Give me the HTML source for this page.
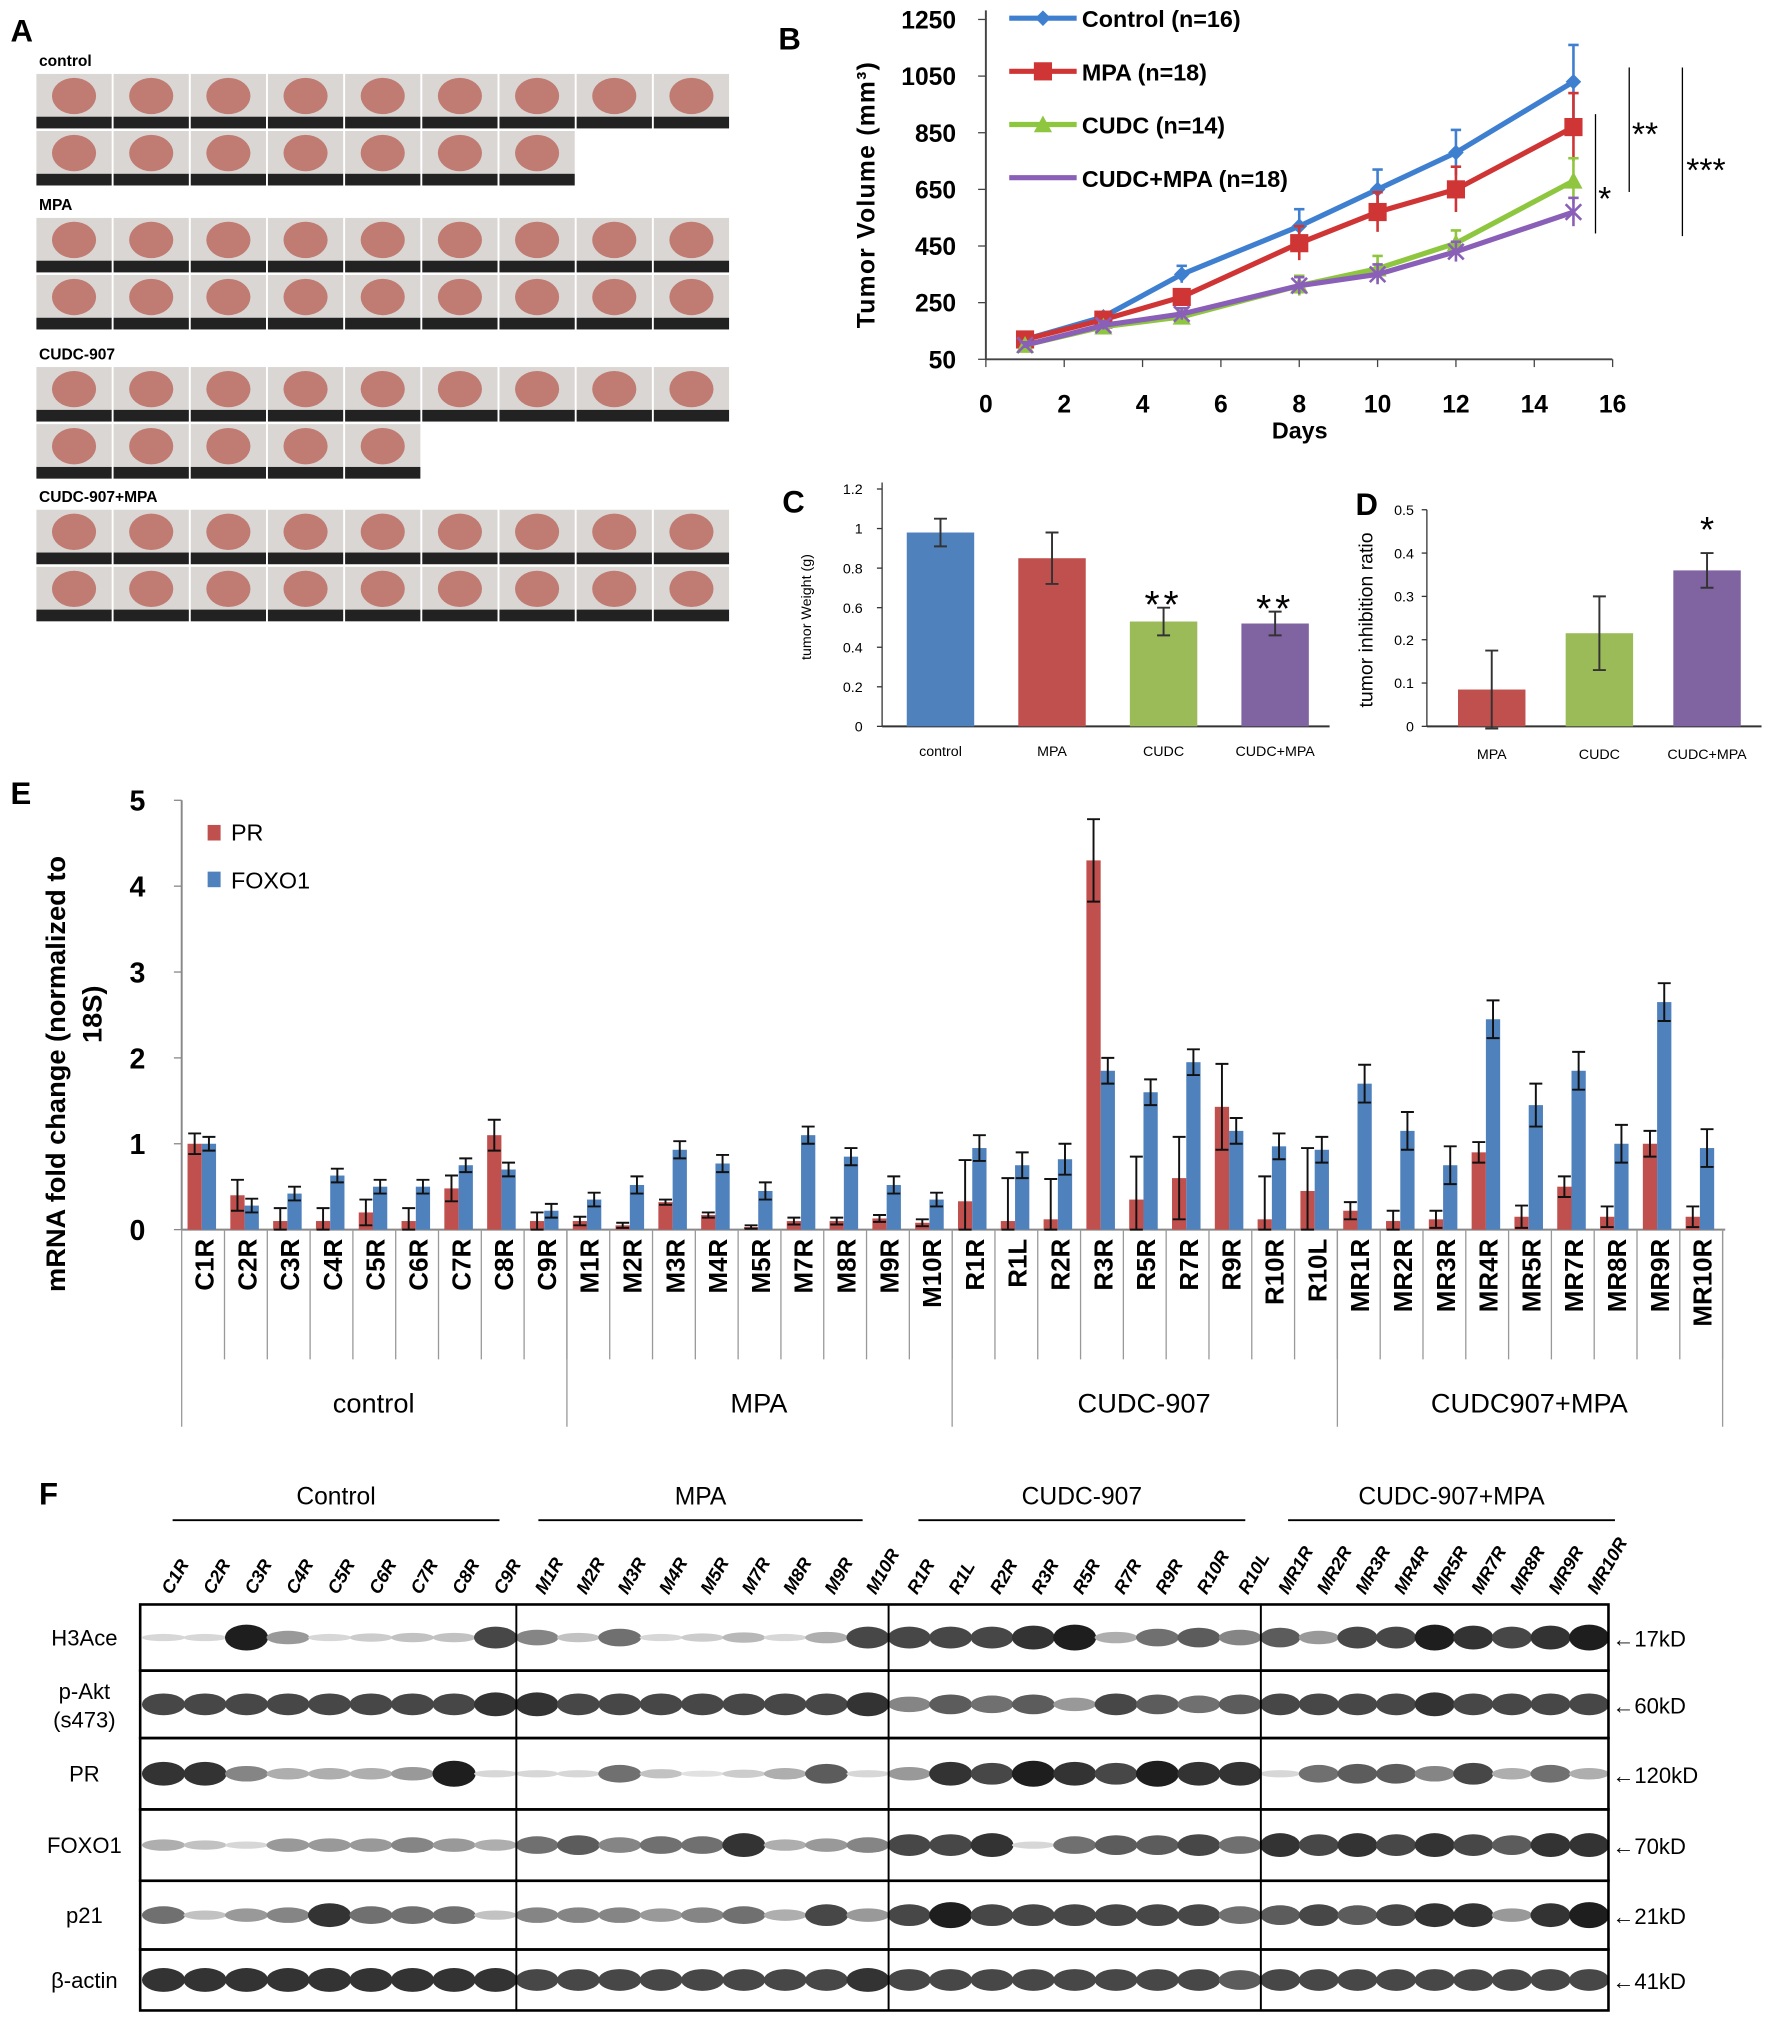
<!DOCTYPE html>
<html><head><meta charset="utf-8"><style>
body{margin:0;background:#fff}
svg{display:block;font-family:"Liberation Sans",sans-serif}
</style></head><body>
<svg id="fig" width="1772" height="2039" viewBox="0 0 1366 1572" xmlns="http://www.w3.org/2000/svg">
<g font-weight="bold" font-size="24">
<text x="8" y="32">A</text>
<text x="600" y="38">B</text>
<text x="603" y="395">C</text>
<text x="1045" y="397">D</text>
<text x="8" y="620">E</text>
<text x="30" y="1160">F</text>
</g>
<g id="pA"></g>
<g id="pB"></g>
<g id="pC"></g>
<g id="pD"></g>
<g id="pE"></g>
<g id="pF"></g>
</svg>
<script>
const NS="http://www.w3.org/2000/svg";
function mk(p,t,a,txt){const e=document.createElementNS(NS,t);for(const k in a)e.setAttribute(k,a[k]);if(txt!==undefined)e.textContent=txt;p.appendChild(e);return e;}

// ---------- Panel A ----------
const photoGroups=["control","MPA","CUDC-907","CUDC-907+MPA"];
const photoRowCounts=[[9,7],[9,9],[9,5],[9,9]];
const pA=document.getElementById('pA');
const groupTop=[57,168,283,393];
photoGroups.forEach((g,gi)=>{
  const t=mk(pA,'text',{x:30,y:groupTop[gi]-6,'font-size':12,'font-weight':'bold'},g);
  
  
  photoRowCounts[gi].forEach((n,ri)=>{
    for(let i=0;i<n;i++){
      const x=28+i*59.5,y=groupTop[gi]+ri*44;
      const r=mk(pA,'rect',{x:x,y:y,width:58,height:42,fill:'#d9d6d3'});
      
      
      mk(pA,'ellipse',{cx:x+29,cy:y+17,rx:17,ry:14,fill:'#c07b72'});
      mk(pA,'rect',{x:x,y:y+33,width:58,height:9,fill:'#222'});
    }
  });
});

// ---------- Panel B ----------
const days=[1,3,5,8,10,12,15];
const ctrlVals=[120,200,350,520,650,780,1030];
const mpaVals=[120,190,270,460,570,650,870];
const cudcVals=[100,165,200,310,370,460,680];
const comboVals=[100,170,210,310,350,430,570];
const ctrlErr=[10,15,30,60,70,80,130];
const mpaErr=[10,15,25,60,70,80,120];
const cudcErr=[10,15,20,35,45,45,80];
const comboErr=[10,15,20,30,35,35,50];
const bYTicks=[50,250,450,650,850,1050,1250];
const bXTicks=[0,2,4,6,8,10,12,14,16];
const pB=document.getElementById('pB');
const bx=d=>760+d*30.2, by=v=>277-(v-50)*(262/1200);
mk(pB,'line',{x1:760,y1:8,x2:760,y2:277,stroke:'#444','stroke-width':1.5});
mk(pB,'line',{x1:760,y1:277,x2:1243,y2:277,stroke:'#444','stroke-width':1.5});
bYTicks.forEach(v=>{mk(pB,'line',{x1:754,y1:by(v),x2:760,y2:by(v),stroke:'#444'});
 const t=mk(pB,'text',{x:737,y:by(v)+7,'text-anchor':'end','font-size':19,'font-weight':'bold'},v);
 });
bXTicks.forEach(v=>{mk(pB,'line',{x1:bx(v),y1:277,x2:bx(v),y2:283,stroke:'#444'});
 const t=mk(pB,'text',{x:bx(v),y:318,'text-anchor':'middle','font-size':19,'font-weight':'bold'},v);
 });
mk(pB,'text',{x:1002,y:338,'text-anchor':'middle','font-size':18,'font-weight':'bold'},'Days');
mk(pB,'text',{x:0,y:0,transform:'translate(674,150) rotate(-90)','text-anchor':'middle','font-size':19,'font-weight':'bold','letter-spacing':'1'},'Tumor Volume (mm³)');
const series=[["Control (n=16)",ctrlVals,ctrlErr,'#3f7fd0'],["MPA (n=18)",mpaVals,mpaErr,'#d03535'],["CUDC (n=14)",cudcVals,cudcErr,'#8fc63f'],["CUDC+MPA (n=18)",comboVals,comboErr,'#8a5fb8']];
series.forEach((s,si)=>{
  const [name,vals,errs,col]=s;
  vals.forEach((v,i)=>{const x=bx(days[i]);mk(pB,'line',{x1:x,y1:by(v-errs[i]),x2:x,y2:by(v+errs[i]),stroke:col,'stroke-width':2});
    mk(pB,'line',{x1:x-4,y1:by(v+errs[i]),x2:x+4,y2:by(v+errs[i]),stroke:col,'stroke-width':2});});
  const pl=mk(pB,'polyline',{points:vals.map((v,i)=>bx(days[i])+','+by(v)).join(' '),fill:'none',stroke:col,'stroke-width':4});
  
  vals.forEach((v,i)=>{const x=bx(days[i]),y=by(v);
    if(si==1)mk(pB,'rect',{x:x-7,y:y-7,width:14,height:14,fill:col});
    else if(si==2)mk(pB,'polygon',{points:`${x},${y-7} ${x-7},${y+6} ${x+7},${y+6}`,fill:col});
    else if(si==0)mk(pB,'polygon',{points:`${x},${y-6} ${x-6},${y} ${x},${y+6} ${x+6},${y}`,fill:col});
    else{mk(pB,'path',{d:`M${x-6},${y-6}L${x+6},${y+6}M${x-6},${y+6}L${x+6},${y-6}`,stroke:col,'stroke-width':2});}});
  const ly=14+si*41;
  mk(pB,'line',{x1:778,y1:ly,x2:830,y2:ly,stroke:col,'stroke-width':4});
  if(si==1)mk(pB,'rect',{x:797,y:ly-7,width:14,height:14,fill:col});
  else if(si==2)mk(pB,'polygon',{points:`804,${ly-7} 797,${ly+6} 811,${ly+6}`,fill:col});
  else if(si==0)mk(pB,'polygon',{points:`804,${ly-6} 798,${ly} 804,${ly+6} 810,${ly}`,fill:col});
  const lt=mk(pB,'text',{x:834,y:ly+7,'font-size':18,'font-weight':'bold'},name);
  
});
mk(pB,'line',{x1:1230,y1:88,x2:1230,y2:180,stroke:'#000'});
mk(pB,'line',{x1:1256,y1:52,x2:1256,y2:148,stroke:'#000'});
mk(pB,'line',{x1:1297,y1:52,x2:1297,y2:182,stroke:'#000'});
mk(pB,'text',{x:1232,y:162,'font-size':26},'*');
mk(pB,'text',{x:1258,y:112,'font-size':26},'**');
mk(pB,'text',{x:1300,y:140,'font-size':26},'***');

// ---------- Panel C ----------
const cCats=["control","MPA","CUDC","CUDC+MPA"];
const cVals=[0.98,0.85,0.53,0.52];
const cErr=[0.07,0.13,0.07,0.06];
const cCols=['#4f81bd','#c0504d','#9bbb59','#8064a2'];
const cTicks=[0,0.2,0.4,0.6,0.8,1,1.2];
const pC=document.getElementById('pC');
const cy=v=>560-v*(183/1.2);
mk(pC,'line',{x1:680,y1:372,x2:680,y2:560,stroke:'#333'});
mk(pC,'line',{x1:680,y1:560,x2:1025,y2:560,stroke:'#333','stroke-width':1.5});
cTicks.forEach(v=>{mk(pC,'line',{x1:676,y1:cy(v),x2:680,y2:cy(v),stroke:'#333'});
 const t=mk(pC,'text',{x:665,y:cy(v)+4,'text-anchor':'end','font-size':11},v);});
mk(pC,'text',{x:0,y:0,transform:'translate(625,468) rotate(-90)','text-anchor':'middle','font-size':11},'tumor Weight (g)');
cVals.forEach((v,i)=>{const x=725+i*86;
 const r=mk(pC,'rect',{x:x-26,y:cy(v),width:52,height:560-cy(v),fill:cCols[i]});
 
 mk(pC,'path',{d:`M${x},${cy(v-cErr[i])}V${cy(v+cErr[i])}M${x-5},${cy(v-cErr[i])}H${x+5}M${x-5},${cy(v+cErr[i])}H${x+5}`,stroke:'#333','stroke-width':1.5});
 mk(pC,'text',{x:x,y:583,'text-anchor':'middle','font-size':11},cCats[i]);
 if(i>=2)mk(pC,'text',{x:x,y:cy(v+cErr[i])+8,'text-anchor':'middle','font-size':30,'letter-spacing':'3'},'**');});

// ---------- Panel D ----------
const dCats=["MPA","CUDC","CUDC+MPA"];
const dVals=[0.085,0.215,0.36];
const dErr=[0.09,0.085,0.04];
const dCols=['#c0504d','#9bbb59','#8064a2'];
const dTicks=[0,0.1,0.2,0.3,0.4,0.5];
const pD=document.getElementById('pD');
const dy=v=>560-v*(167/0.5);
mk(pD,'line',{x1:1100,y1:393,x2:1100,y2:560,stroke:'#333'});
mk(pD,'line',{x1:1100,y1:560,x2:1358,y2:560,stroke:'#333','stroke-width':1.5});
dTicks.forEach(v=>{mk(pD,'line',{x1:1096,y1:dy(v),x2:1100,y2:dy(v),stroke:'#333'});
 const t=mk(pD,'text',{x:1090,y:dy(v)+4,'text-anchor':'end','font-size':11},v);});
mk(pD,'text',{x:0,y:0,transform:'translate(1058,478) rotate(-90)','text-anchor':'middle','font-size':15},'tumor inhibition ratio');
dVals.forEach((v,i)=>{const x=1150+i*83;
 const r=mk(pD,'rect',{x:x-26,y:dy(v),width:52,height:560-dy(v),fill:dCols[i]});
 
 mk(pD,'path',{d:`M${x},${dy(v-dErr[i])}V${dy(v+dErr[i])}M${x-5},${dy(v-dErr[i])}H${x+5}M${x-5},${dy(v+dErr[i])}H${x+5}`,stroke:'#333','stroke-width':1.5});
 mk(pD,'text',{x:x,y:585,'text-anchor':'middle','font-size':11},dCats[i]);});
mk(pD,'text',{x:1316,y:418,'text-anchor':'middle','font-size':28},'*');

// ---------- Panel E ----------
const eCats=["C1R","C2R","C3R","C4R","C5R","C6R","C7R","C8R","C9R","M1R","M2R","M3R","M4R","M5R","M7R","M8R","M9R","M10R","R1R","R1L","R2R","R3R","R5R","R7R","R9R","R10R","R10L","MR1R","MR2R","MR3R","MR4R","MR5R","MR7R","MR8R","MR9R","MR10R"];
const prVals=[1.0,0.4,0.1,0.1,0.2,0.1,0.48,1.1,0.1,0.1,0.05,0.32,0.17,0.03,0.1,0.1,0.13,0.08,0.33,0.1,0.12,4.3,0.35,0.6,1.43,0.12,0.45,0.22,0.1,0.12,0.9,0.15,0.5,0.15,1.0,0.15];
const prErr=[0.12,0.18,0.15,0.15,0.15,0.15,0.15,0.18,0.1,0.05,0.03,0.03,0.03,0.02,0.04,0.04,0.04,0.04,0.48,0.5,0.47,0.48,0.5,0.48,0.5,0.5,0.5,0.1,0.12,0.1,0.12,0.13,0.12,0.12,0.15,0.12];
const foxVals=[1.0,0.28,0.42,0.63,0.5,0.5,0.75,0.7,0.22,0.35,0.52,0.93,0.77,0.45,1.1,0.85,0.52,0.35,0.95,0.75,0.82,1.85,1.6,1.95,1.15,0.97,0.93,1.7,1.15,0.75,2.45,1.45,1.85,1.0,2.65,0.95];
const foxErr=[0.08,0.08,0.08,0.08,0.08,0.08,0.08,0.08,0.08,0.08,0.1,0.1,0.1,0.1,0.1,0.1,0.1,0.08,0.15,0.15,0.18,0.15,0.15,0.15,0.15,0.15,0.15,0.22,0.22,0.22,0.22,0.25,0.22,0.22,0.22,0.22];
const eTicks=[0,1,2,3,4,5];
const eGroups=["control","MPA","CUDC-907","CUDC907+MPA"];
const pE=document.getElementById('pE');
const ey=v=>948-v*(331/5), ex=i=>140+(i+0.5)*33;
mk(pE,'line',{x1:140,y1:617,x2:140,y2:948,stroke:'#888','stroke-width':1.5});
mk(pE,'line',{x1:140,y1:948,x2:1330,y2:948,stroke:'#888','stroke-width':1.5});
eTicks.forEach(v=>{mk(pE,'line',{x1:134,y1:ey(v),x2:140,y2:ey(v),stroke:'#888'});
 const t=mk(pE,'text',{x:112,y:ey(v)+8,'text-anchor':'end','font-size':22,'font-weight':'bold'},v);});
mk(pE,'text',{x:0,y:0,transform:'translate(50,828) rotate(-90)','text-anchor':'middle','font-size':21,'font-weight':'bold'},'mRNA fold change (normalized to');
mk(pE,'text',{x:0,y:0,transform:'translate(78,782) rotate(-90)','text-anchor':'middle','font-size':21,'font-weight':'bold'},'18S)');
mk(pE,'rect',{x:160,y:636,width:10,height:12,fill:'#c0504d'});
mk(pE,'text',{x:178,y:648,'font-size':18},'PR');
mk(pE,'rect',{x:160,y:672,width:10,height:12,fill:'#4f81bd'});
mk(pE,'text',{x:178,y:685,'font-size':18},'FOXO1');
eCats.forEach((c,i)=>{const x=ex(i);
 const r1=mk(pE,'rect',{x:x-12,y:ey(prVals[i]),width:11,height:948-ey(prVals[i]),fill:'#c0504d'});
 
 const r2=mk(pE,'rect',{x:x-1,y:ey(foxVals[i]),width:11,height:948-ey(foxVals[i]),fill:'#4f81bd'});
 
 [[x-6.5,prVals[i],prErr[i]],[x+4.5,foxVals[i],foxErr[i]]].forEach(([cx,v,e])=>{
  mk(pE,'path',{d:`M${cx},${ey(Math.max(0,v-e))}V${ey(v+e)}M${cx-5},${ey(Math.max(0,v-e))}H${cx+5}M${cx-5},${ey(v+e)}H${cx+5}`,stroke:'#111','stroke-width':1.5});});
 mk(pE,'line',{x1:140+(i+1)*33,y1:948,x2:140+(i+1)*33,y2:1048,stroke:'#999'});
 const t=mk(pE,'text',{x:0,y:0,transform:`translate(${x+8},955) rotate(-90)`,'text-anchor':'end','font-size':20,'font-weight':'bold'},c);
 });
eGroups.forEach((g,gi)=>{const x0=140+gi*297;
 mk(pE,'line',{x1:x0,y1:948,x2:x0,y2:1100,stroke:'#999'});
 const t=mk(pE,'text',{x:x0+148,y:1089,'text-anchor':'middle','font-size':21},g);});
mk(pE,'line',{x1:1328,y1:948,x2:1328,y2:1100,stroke:'#999'});

// ---------- Panel F ----------
const fGroups=["Control","MPA","CUDC-907","CUDC-907+MPA"];
const fLanes=[["C1R","C2R","C3R","C4R","C5R","C6R","C7R","C8R","C9R"],["M1R","M2R","M3R","M4R","M5R","M7R","M8R","M9R","M10R"],["R1R","R1L","R2R","R3R","R5R","R7R","R9R","R10R","R10L"],["MR1R","MR2R","MR3R","MR4R","MR5R","MR7R","MR8R","MR9R","MR10R"]];
const fRows=["H3Ace","p-Akt (s473)","PR","FOXO1","p21","β-actin"];
const fKd=["17kD","60kD","120kD","70kD","21kD","41kD"];
const fInt=[
[.1,.1,1,.4,.1,.15,.2,.2,.8, .5,.2,.6,.1,.15,.25,.1,.3,.8, .8,.8,.8,.9,1,.3,.6,.7,.5, .7,.4,.8,.8,1,.9,.8,.9,1],
[.8,.8,.8,.8,.8,.8,.8,.8,.9, .9,.8,.8,.8,.8,.8,.8,.8,.9, .5,.7,.6,.7,.4,.8,.7,.6,.7, .8,.8,.8,.8,.9,.8,.8,.8,.8],
[.9,.9,.5,.3,.3,.3,.4,1,.1, .1,.1,.6,.2,.05,.15,.3,.7,.1, .4,.9,.8,1,.9,.8,1,.9,.9, .1,.6,.7,.7,.5,.8,.3,.6,.3],
[.3,.2,.1,.4,.4,.4,.5,.4,.3, .6,.7,.5,.6,.6,.9,.3,.4,.5, .8,.8,.9,.1,.6,.7,.7,.8,.6, .9,.8,.9,.8,.9,.8,.7,.9,.9],
[.6,.2,.4,.5,.9,.6,.6,.6,.2, .5,.5,.5,.4,.5,.6,.3,.8,.4, .8,1,.8,.8,.8,.8,.8,.8,.6, .7,.8,.7,.8,.9,.9,.4,.9,1],
[.9,.9,.9,.9,.9,.9,.9,.9,.9, .8,.8,.8,.8,.8,.8,.8,.8,.9, .8,.8,.8,.8,.8,.8,.8,.8,.7, .8,.8,.8,.8,.8,.8,.8,.8,.8]];
const pF=document.getElementById('pF');
const rowTops=[1237,1288,1340,1395,1450,1503,1550];
const gX=[110,398,685,972,1240];
const hdrLines=[[133,385],[415,665],[708,960],[993,1245]];
fGroups.forEach((g,gi)=>{const x0=gX[gi],x1=gX[gi+1],w=(x1-x0)/9;
 const t=mk(pF,'text',{x:(hdrLines[gi][0]+hdrLines[gi][1])/2,y:1160,'text-anchor':'middle','font-size':19},g);
 mk(pF,'line',{x1:hdrLines[gi][0],y1:1172,x2:hdrLines[gi][1],y2:1172,stroke:'#000','stroke-width':1.5});
 fLanes[gi].forEach((l,li)=>{const lx=x0+w*(li+0.5);
  const lt=mk(pF,'text',{x:0,y:0,transform:`translate(${lx+6},1230) rotate(-60)`,'font-size':14,'font-style':'italic','font-weight':'bold'},l);
  
  fRows.forEach((r,ri)=>{const k=gi*9+li,v=fInt[ri][k],cy=(rowTops[ri]+rowTops[ri+1])/2;
   const g2=Math.round(235-205*v);
   mk(pF,'ellipse',{cx:lx,cy:cy,rx:w*0.52,ry:2+8*v,fill:`rgb(${g2},${g2},${g2})`});});
 });
 if(gi>0)mk(pF,'line',{x1:x0,y1:1237,x2:x0,y2:1550,stroke:'#000','stroke-width':1.5});
});
fRows.forEach((r,ri)=>{
 mk(pF,'rect',{x:108,y:rowTops[ri],width:1132,height:rowTops[ri+1]-rowTops[ri],fill:'none',stroke:'#000','stroke-width':2});
 const cy=(rowTops[ri]+rowTops[ri+1])/2;
 if(ri==1){mk(pF,'text',{x:65,y:cy-4,'text-anchor':'middle','font-size':17},'p-Akt');mk(pF,'text',{x:65,y:cy+18,'text-anchor':'middle','font-size':17},'(s473)');}
 else{const t=mk(pF,'text',{x:65,y:cy+6,'text-anchor':'middle','font-size':17},r);}
 const k=mk(pF,'text',{x:1243,y:cy+7,'font-size':17},'←'+fKd[ri]);
});
</script>
</body></html>
